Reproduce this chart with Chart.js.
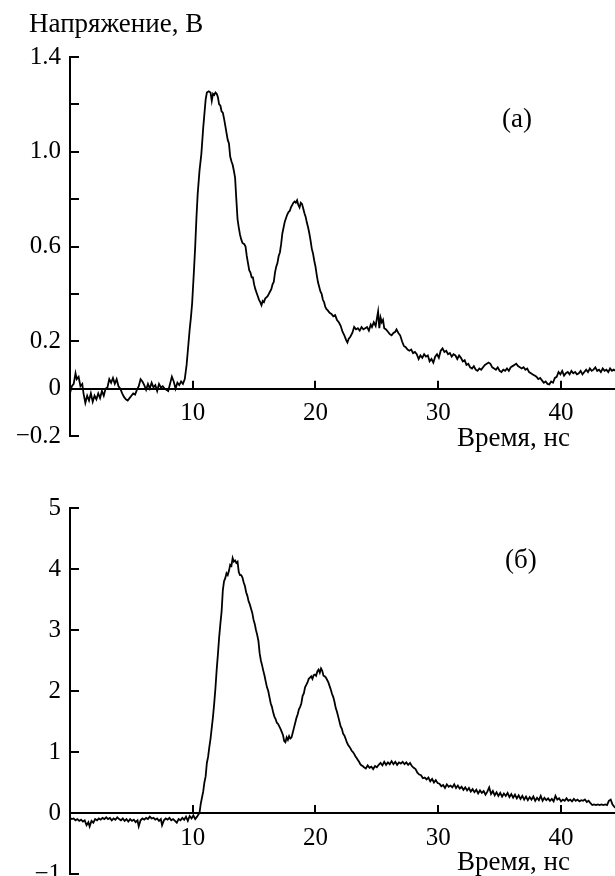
<!DOCTYPE html>
<html>
<head>
<meta charset="utf-8">
<script src="https://cdn.jsdelivr.net/npm/chart.js@4.4.1/dist/chart.umd.min.js"></script>
<style>
  body { margin: 0; background: #fff; overflow: hidden; }
  #page { position: relative; width: 615px; height: 876px; overflow: hidden; font-family: "Liberation Serif", serif; color: #000; }
  .lbl { position: absolute; font-size: 27px; line-height: 27px; white-space: nowrap; }
  canvas { position: absolute; left: 0; }
</style>
</head>
<body>
<div id="page">
  <canvas id="chartA" width="615" height="460" style="top:0"></canvas>
  <canvas id="chartB" width="615" height="450" style="top:460px"></canvas>
  <div class="lbl" style="left:29px; top:10px">Напряжение, В</div>
  <div class="lbl" style="left:502px; top:105px">(а)</div>
  <div class="lbl" style="left:505px; top:546px">(б)</div>
  <div class="lbl" style="left:457px; top:424px">Время, нс</div>
  <div class="lbl" style="left:457px; top:848px">Время, нс</div>
</div>
<script>
// время (нс), напряжение (В) — панель (а)
const traceA = [
  [0.0,-0.02],[0.15,0.01],[0.3,0.02],[0.45,0.065],[0.55,0.04],[0.7,0.05],[0.85,0.01],[1.0,0.02],
  [1.1,-0.02],[1.25,-0.06],[1.4,-0.03],[1.55,-0.05],[1.7,-0.02],[1.85,-0.055],[2.0,-0.03],[2.15,-0.045],
  [2.3,-0.02],[2.45,-0.04],[2.6,-0.01],[2.75,-0.03],[2.9,0.0],[3.05,0.005],[3.2,0.04],[3.35,0.025],
  [3.5,0.045],[3.65,0.02],[3.8,0.04],[3.95,0.01],[4.1,0.0],[4.25,-0.02],[4.4,-0.035],[4.55,-0.045],
  [4.7,-0.05],[4.85,-0.04],[5.0,-0.03],[5.15,-0.02],[5.3,-0.025],[5.45,-0.005],[5.6,0.01],[5.75,0.04],
  [5.9,0.03],[6.05,0.015],[6.2,-0.005],[6.35,0.02],[6.5,0.0],[6.65,0.025],[6.8,0.005],[6.95,0.015],
  [7.1,-0.01],[7.25,0.02],[7.4,0.005],[7.55,0.01],[7.7,0.0],[7.85,-0.005],[8.0,-0.01],[8.15,0.02],
  [8.3,0.05],[8.45,0.03],[8.6,0.0],[8.75,0.025],[8.9,0.015],[9.05,0.03],[9.2,0.02],[9.35,0.04],
  [9.5,0.1],[9.6,0.16],[9.75,0.25],[9.85,0.3],[9.95,0.36],[10.1,0.5],[10.2,0.6],[10.3,0.72],
  [10.4,0.82],[10.55,0.92],[10.7,0.99],[10.85,1.1],[10.95,1.16],[11.05,1.22],[11.15,1.25],[11.3,1.255],
  [11.45,1.25],[11.55,1.215],[11.65,1.245],[11.75,1.24],[11.85,1.25],[11.95,1.245],[12.05,1.23],[12.15,1.2],
  [12.25,1.195],[12.35,1.17],[12.45,1.165],[12.55,1.14],[12.65,1.11],[12.75,1.08],[12.85,1.05],[12.95,1.035],
  [13.05,0.98],[13.15,0.96],[13.25,0.945],[13.35,0.92],[13.45,0.89],[13.55,0.8],[13.65,0.715],[13.75,0.68],
  [13.85,0.65],[13.95,0.63],[14.05,0.615],[14.2,0.61],[14.3,0.6],[14.4,0.56],[14.5,0.53],[14.6,0.5],
  [14.7,0.49],[14.8,0.47],[14.9,0.47],[15.0,0.44],[15.1,0.42],[15.2,0.405],[15.3,0.39],[15.4,0.375],
  [15.5,0.365],[15.6,0.352],[15.7,0.37],[15.8,0.365],[15.9,0.38],[16.0,0.385],[16.1,0.39],[16.2,0.4],
  [16.3,0.41],[16.4,0.42],[16.5,0.44],[16.6,0.45],[16.7,0.49],[16.8,0.515],[16.9,0.53],[17.0,0.56],
  [17.1,0.575],[17.2,0.61],[17.3,0.655],[17.4,0.68],[17.5,0.705],[17.6,0.72],[17.7,0.735],[17.8,0.745],
  [17.9,0.75],[18.0,0.765],[18.1,0.775],[18.2,0.785],[18.3,0.79],[18.4,0.785],[18.5,0.795],[18.6,0.775],
  [18.7,0.765],[18.8,0.785],[18.9,0.78],[19.0,0.76],[19.1,0.74],[19.2,0.725],[19.3,0.7],[19.4,0.68],
  [19.5,0.655],[19.6,0.625],[19.7,0.59],[19.8,0.57],[19.9,0.54],[20.0,0.515],[20.1,0.48],[20.2,0.45],
  [20.3,0.43],[20.4,0.41],[20.5,0.4],[20.6,0.375],[20.7,0.365],[20.8,0.345],[20.9,0.335],[21.0,0.33],
  [21.15,0.32],[21.3,0.315],[21.45,0.305],[21.6,0.31],[21.75,0.29],[21.9,0.28],[22.05,0.265],[22.2,0.24],
  [22.35,0.225],[22.5,0.205],[22.6,0.195],[22.7,0.21],[22.85,0.22],[23.0,0.235],[23.15,0.26],[23.3,0.25],
  [23.45,0.255],[23.6,0.245],[23.75,0.26],[23.9,0.25],[24.05,0.255],[24.2,0.26],[24.35,0.245],[24.5,0.27],
  [24.6,0.26],[24.75,0.28],[24.9,0.265],[25.0,0.295],[25.1,0.325],[25.2,0.255],[25.3,0.3],[25.4,0.28],
  [25.5,0.29],[25.6,0.255],[25.75,0.25],[25.9,0.24],[26.05,0.23],[26.2,0.225],[26.35,0.235],[26.5,0.24],
  [26.6,0.25],[26.75,0.235],[26.9,0.225],[27.05,0.2],[27.2,0.18],[27.35,0.175],[27.5,0.165],[27.65,0.16],
  [27.8,0.165],[27.95,0.15],[28.1,0.155],[28.25,0.145],[28.4,0.125],[28.55,0.14],[28.7,0.13],[28.85,0.145],
  [29.0,0.135],[29.15,0.14],[29.3,0.115],[29.45,0.125],[29.6,0.11],[29.75,0.135],[29.9,0.145],[30.05,0.13],
  [30.2,0.16],[30.35,0.17],[30.5,0.155],[30.65,0.16],[30.8,0.145],[30.95,0.15],[31.1,0.135],[31.25,0.145],
  [31.4,0.14],[31.55,0.125],[31.7,0.14],[31.85,0.13],[32.0,0.115],[32.15,0.12],[32.3,0.1],[32.45,0.105],
  [32.6,0.09],[32.75,0.085],[32.9,0.095],[33.05,0.08],[33.2,0.075],[33.35,0.085],[33.5,0.08],[33.65,0.09],
  [33.8,0.1],[33.95,0.105],[34.1,0.11],[34.25,0.105],[34.4,0.09],[34.55,0.085],[34.7,0.08],[34.85,0.09],
  [35.0,0.075],[35.15,0.07],[35.3,0.08],[35.45,0.075],[35.6,0.085],[35.75,0.075],[35.9,0.09],[36.05,0.095],
  [36.2,0.1],[36.35,0.105],[36.5,0.095],[36.65,0.09],[36.8,0.085],[36.95,0.09],[37.1,0.08],[37.25,0.085],
  [37.4,0.07],[37.55,0.065],[37.7,0.06],[37.85,0.055],[38.0,0.05],[38.15,0.04],[38.3,0.045],[38.45,0.035],
  [38.6,0.025],[38.75,0.03],[38.9,0.02],[39.05,0.018],[39.2,0.03],[39.35,0.025],[39.5,0.045],[39.65,0.05],
  [39.8,0.07],[39.95,0.06],[40.1,0.075],[40.25,0.055],[40.4,0.065],[40.55,0.07],[40.7,0.06],[40.85,0.075],
  [41.0,0.065],[41.15,0.07],[41.3,0.06],[41.45,0.065],[41.6,0.075],[41.75,0.06],[41.9,0.07],[42.05,0.08],
  [42.2,0.07],[42.35,0.085],[42.5,0.075],[42.65,0.08],[42.8,0.09],[42.95,0.075],[43.1,0.08],[43.25,0.07],
  [43.4,0.085],[43.55,0.075],[43.7,0.08],[43.85,0.07],[44.0,0.085],[44.15,0.075],[44.3,0.08],[44.45,0.075]
];

// время (нс), напряжение (В) — панель (б)
const traceB = [
  [0.0,-0.08],[0.15,-0.1],[0.3,-0.09],[0.45,-0.12],[0.6,-0.1],[0.75,-0.13],[0.9,-0.11],[1.05,-0.14],
  [1.2,-0.12],[1.35,-0.2],[1.5,-0.15],[1.6,-0.22],[1.75,-0.13],[1.9,-0.16],[2.05,-0.1],[2.2,-0.12],
  [2.35,-0.09],[2.5,-0.11],[2.65,-0.08],[2.8,-0.1],[2.95,-0.07],[3.1,-0.1],[3.25,-0.08],[3.4,-0.12],
  [3.55,-0.09],[3.7,-0.11],[3.85,-0.07],[4.0,-0.1],[4.15,-0.12],[4.3,-0.09],[4.45,-0.13],[4.6,-0.1],
  [4.75,-0.14],[4.9,-0.1],[5.05,-0.13],[5.2,-0.11],[5.35,-0.15],[5.5,-0.12],[5.6,-0.22],[5.75,-0.12],
  [5.9,-0.09],[6.05,-0.11],[6.2,-0.08],[6.35,-0.1],[6.5,-0.06],[6.65,-0.09],[6.8,-0.08],[6.95,-0.11],
  [7.1,-0.09],[7.25,-0.13],[7.4,-0.1],[7.5,-0.2],[7.65,-0.12],[7.8,-0.09],[7.95,-0.11],[8.1,-0.08],
  [8.25,-0.12],[8.4,-0.1],[8.55,-0.13],[8.7,-0.16],[8.85,-0.1],[9.0,-0.12],[9.15,-0.08],[9.3,-0.11],
  [9.45,-0.06],[9.6,-0.13],[9.75,-0.05],[9.9,-0.09],[10.05,-0.04],[10.2,-0.1],[10.35,-0.06],[10.45,-0.03],
  [10.55,0.0],[10.65,0.15],[10.75,0.25],[10.85,0.35],[10.95,0.5],[11.05,0.6],[11.15,0.82],[11.25,0.92],
  [11.35,1.08],[11.45,1.22],[11.55,1.4],[11.65,1.58],[11.75,1.8],[11.85,2.05],[11.95,2.35],[12.05,2.6],
  [12.15,2.88],[12.25,3.1],[12.35,3.3],[12.45,3.65],[12.55,3.8],[12.65,3.85],[12.75,3.93],[12.85,3.9],
  [12.95,3.97],[13.05,4.07],[13.15,4.05],[13.25,4.18],[13.35,4.12],[13.45,4.14],[13.55,4.1],[13.65,4.12],
  [13.75,3.95],[13.85,3.9],[13.95,3.9],[14.05,3.86],[14.15,3.78],[14.25,3.72],[14.35,3.62],[14.45,3.56],
  [14.55,3.47],[14.65,3.42],[14.75,3.35],[14.85,3.28],[14.95,3.17],[15.05,3.1],[15.15,3.0],[15.25,2.92],
  [15.35,2.82],[15.45,2.62],[15.55,2.5],[15.65,2.42],[15.75,2.33],[15.85,2.25],[15.95,2.15],[16.05,2.06],
  [16.15,2.0],[16.25,1.9],[16.35,1.8],[16.45,1.74],[16.55,1.65],[16.65,1.58],[16.75,1.54],[16.85,1.48],
  [16.95,1.46],[17.05,1.42],[17.15,1.38],[17.25,1.33],[17.35,1.28],[17.45,1.18],[17.55,1.16],[17.65,1.24],
  [17.75,1.2],[17.85,1.26],[17.95,1.22],[18.05,1.24],[18.15,1.32],[18.25,1.4],[18.35,1.48],[18.45,1.56],
  [18.55,1.62],[18.65,1.7],[18.75,1.74],[18.85,1.8],[18.95,1.92],[19.05,1.96],[19.15,2.06],[19.25,2.1],
  [19.35,2.14],[19.45,2.2],[19.55,2.22],[19.65,2.24],[19.75,2.2],[19.85,2.26],[19.95,2.27],[20.05,2.25],
  [20.15,2.32],[20.25,2.35],[20.35,2.3],[20.45,2.37],[20.55,2.33],[20.65,2.25],[20.75,2.24],[20.85,2.22],
  [20.95,2.18],[21.05,2.14],[21.15,2.08],[21.25,2.02],[21.35,1.95],[21.45,1.9],[21.55,1.82],[21.65,1.72],
  [21.75,1.66],[21.85,1.58],[21.95,1.5],[22.05,1.42],[22.15,1.38],[22.25,1.3],[22.35,1.27],[22.45,1.22],
  [22.55,1.16],[22.65,1.12],[22.75,1.09],[22.85,1.06],[22.95,1.02],[23.05,1.0],[23.15,0.97],[23.25,0.93],
  [23.35,0.9],[23.45,0.87],[23.55,0.84],[23.65,0.8],[23.75,0.78],[23.85,0.77],[23.95,0.75],[24.1,0.73],
  [24.25,0.78],[24.4,0.74],[24.55,0.76],[24.7,0.72],[24.85,0.77],[25.0,0.75],[25.15,0.79],[25.3,0.82],
  [25.45,0.78],[25.6,0.84],[25.75,0.79],[25.9,0.83],[26.05,0.8],[26.2,0.85],[26.35,0.8],[26.5,0.84],
  [26.65,0.79],[26.8,0.83],[26.95,0.81],[27.1,0.84],[27.25,0.8],[27.4,0.83],[27.55,0.79],[27.7,0.82],
  [27.85,0.77],[28.0,0.74],[28.15,0.72],[28.3,0.66],[28.45,0.63],[28.6,0.62],[28.75,0.57],[28.9,0.58],
  [29.05,0.55],[29.2,0.58],[29.35,0.52],[29.5,0.56],[29.65,0.5],[29.8,0.54],[29.95,0.49],[30.1,0.48],
  [30.25,0.44],[30.4,0.46],[30.55,0.41],[30.7,0.47],[30.85,0.43],[31.0,0.45],[31.15,0.42],[31.3,0.47],
  [31.45,0.41],[31.6,0.45],[31.75,0.4],[31.9,0.43],[32.05,0.38],[32.2,0.42],[32.35,0.37],[32.5,0.41],
  [32.65,0.35],[32.8,0.39],[32.95,0.34],[33.1,0.38],[33.25,0.32],[33.4,0.37],[33.55,0.33],[33.7,0.36],
  [33.85,0.3],[34.0,0.35],[34.15,0.42],[34.3,0.31],[34.45,0.36],[34.6,0.29],[34.75,0.34],[34.9,0.28],
  [35.05,0.33],[35.2,0.27],[35.35,0.32],[35.5,0.28],[35.65,0.33],[35.8,0.26],[35.95,0.31],[36.1,0.25],
  [36.25,0.3],[36.4,0.24],[36.55,0.29],[36.7,0.23],[36.85,0.28],[37.0,0.22],[37.15,0.27],[37.3,0.21],
  [37.45,0.26],[37.6,0.22],[37.75,0.27],[37.9,0.2],[38.05,0.25],[38.2,0.21],[38.35,0.28],[38.5,0.2],
  [38.65,0.25],[38.8,0.21],[38.95,0.24],[39.1,0.2],[39.25,0.23],[39.4,0.19],[39.55,0.28],[39.7,0.22],
  [39.85,0.24],[40.0,0.19],[40.15,0.22],[40.3,0.2],[40.45,0.24],[40.6,0.2],[40.75,0.22],[40.9,0.19],
  [41.05,0.23],[41.2,0.2],[41.35,0.22],[41.5,0.19],[41.65,0.21],[41.8,0.2],[41.95,0.22],[42.1,0.18],
  [42.25,0.2],[42.4,0.16],[42.55,0.13],[42.7,0.14],[42.85,0.13],[43.0,0.14],[43.15,0.13],[43.3,0.14],
  [43.45,0.13],[43.6,0.14],[43.75,0.13],[43.9,0.2],[44.05,0.22],[44.2,0.14],[44.35,0.1],[44.5,0.08]
];

// подписанные деления осей
const xTickLabels = [10, 20, 30, 40];
const yTickValuesA = [-0.2, 0, 0.2, 0.6, 1.0, 1.4];
const yTickTextA = ['\u22120.2', '0', '0.2', '0.6', '1.0', '1.4'];
const yTickValuesB = [-1, 0, 1, 2, 3, 4, 5];
const yTickTextB = ['\u22121', '0', '1', '2', '3', '4', '5'];

Chart.defaults.font.family = '"Liberation Serif", serif';
Chart.defaults.font.size = 25;
Chart.defaults.color = '#000';

// засечки внутрь графика
const innerTicks = {
  id: 'innerTicks',
  afterDraw(chart) {
    const { ctx, chartArea, scales: { x, y } } = chart;
    const y0 = y.getPixelForValue(0);
    ctx.save();
    ctx.strokeStyle = '#000';
    ctx.lineWidth = 2;
    ctx.beginPath();
    x.ticks.forEach(t => {
      if (xTickLabels.indexOf(t.value) < 0) return;
      const px = Math.round(x.getPixelForValue(t.value));
      ctx.moveTo(px, y0);
      ctx.lineTo(px, y0 - 8);
    });
    y.ticks.forEach(t => {
      const py = Math.round(y.getPixelForValue(t.value));
      ctx.moveTo(chartArea.left, py);
      ctx.lineTo(chartArea.left + 9, py);
    });
    ctx.stroke();
    ctx.restore();
  }
};

function makeChart(id, trace, yMin, yMax, yStep, tickValues, tickText, padTop, padBottom) {
  const ctx = document.getElementById(id).getContext('2d');
  return new Chart(ctx, {
    type: 'line',
    data: {
      datasets: [{
        data: trace.map(p => ({ x: p[0], y: p[1] })),
        borderColor: '#000',
        borderWidth: 1.8,
        pointRadius: 0,
        tension: 0,
        fill: false
      }]
    },
    options: {
      responsive: false,
      animation: false,
      layout: { padding: { top: padTop, bottom: padBottom, left: 0, right: 0 } },
      plugins: { legend: { display: false }, tooltip: { enabled: false } },
      scales: {
        x: {
          type: 'linear',
          min: 0,
          max: 44.4,
          position: { y: 0 },
          grid: { display: true, drawOnChartArea: false, drawTicks: false },
          border: { display: true, color: '#000', width: 2 },
          ticks: {
            stepSize: 10,
            autoSkip: false,
            includeBounds: false,
            maxRotation: 0,
            padding: 10,
            callback: v => xTickLabels.indexOf(v) >= 0 ? String(v) : ''
          },
          afterFit: s => { s.height = 0; }
        },
        y: {
          type: 'linear',
          min: yMin,
          max: yMax,
          grid: { display: true, drawOnChartArea: false, drawTicks: false },
          border: { display: true, color: '#000', width: 2 },
          ticks: {
            stepSize: yStep,
            autoSkip: false,
            includeBounds: false,
            padding: 9,
            callback: v => {
              const i = tickValues.findIndex(t => Math.abs(t - v) < 1e-6);
              return i >= 0 ? tickText[i] : '';
            }
          },
          afterFit: s => { s.width = 70; }
        }
      }
    },
    plugins: [innerTicks]
  });
}

makeChart('chartA', traceA, -0.2, 1.4, 0.2, yTickValuesA, yTickTextA, 57, 22);
makeChart('chartB', traceB, -1, 5, 1, yTickValuesB, yTickTextB, 48, 36);
</script>
</body>
</html>
